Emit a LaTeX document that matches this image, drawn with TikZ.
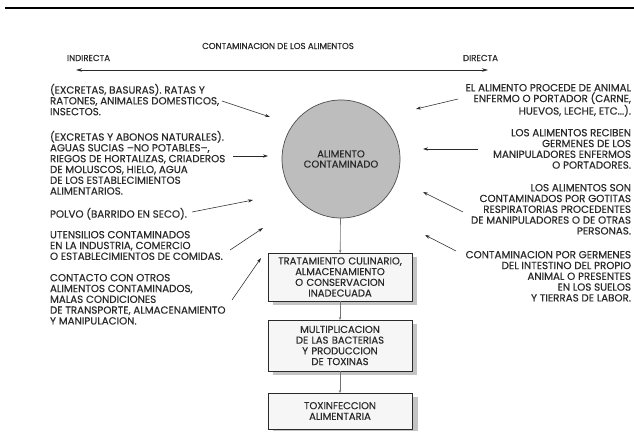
\documentclass[tikz,border=0pt]{standalone}
\usepackage{fontspec}
\setmainfont{Poppins}[FakeBold=0.35]
\usetikzlibrary{arrows.meta}
\definecolor{txt}{HTML}{2A2A2A}
\definecolor{circfill}{HTML}{BDBDBD}
\definecolor{shad}{HTML}{C4C4C4}
\definecolor{boxfill}{HTML}{F6F6F6}
\begin{document}
\begin{tikzpicture}[x=1pt,y=-1pt,
  every node/.style={font=\fontsize{10.3}{10.8}\selectfont, text=txt, inner sep=0pt, outer sep=0pt},
  headfont/.style={font=\fontsize{8.6}{10}\selectfont},
  lblock/.style={align=left, anchor=north west},
  rblock/.style={align=right, anchor=north east},
  ptr/.style={draw=txt, line width=0.55pt, -{Stealth[length=5pt,width=3.2pt]}},
  flowarr/.style={draw=black!55, line width=0.6pt, -{Stealth[length=3pt,width=2.4pt]}},
  flowbox/.style={draw=txt, line width=0.9pt, fill=boxfill, minimum width=144pt, align=center, anchor=north west, text width=140pt, font=\fontsize{10}{10.7}\selectfont},
]
\useasboundingbox (0,0) rectangle (634,431);
\fill[white] (0,0) rectangle (634,431);
% top rule
\draw[line width=2.8pt, black] (5,8) -- (634,8);
% heading
\node[headfont] (title) at (278,46) {CONTAMINACION DE LOS ALIMENTOS};
\node[headfont, anchor=west] (ind) at (67,58) {INDIRECTA};
\node[headfont, anchor=east] (dir) at (498,58) {DIRECTA};
\coordinate (axl) at (76,70);
\coordinate (axr) at (488,70);
\draw[draw=txt, line width=0.7pt, {Stealth[length=6pt,width=3.5pt]}-{Stealth[length=6pt,width=3.5pt]}] (axl) -- (axr);
% central circle
\node[circle, draw=black!70, line width=0.7pt, fill=circfill, minimum size=118pt, align=center, font=\fontsize{10}{10.2}\selectfont] (food) at (341,159) {ALIMENTO\\CONTAMINADO};
% boxes with shadows
\fill[shad] (273,257) rectangle (417,305);
\node[flowbox, minimum height=48pt] (b1) at (268,253) {TRATAMIENTO CULINARIO,\\ALMACENAMIENTO\\O CONSERVACION\\INADECUADA};
\fill[shad] (273,324) rectangle (417,375);
\node[flowbox, minimum height=51pt] (b2) at (268,320) {MULTIPLICACION\\DE LAS BACTERIAS\\Y PRODUCCION\\DE TOXINAS};
\fill[shad] (273,397) rectangle (418,431);
\node[flowbox, minimum height=36pt] (b3) at (268,393) {TOXINFECCION\\ALIMENTARIA};
\draw[flowarr] (food) -- (b1);
\draw[flowarr] (b1) -- (b2);
\draw[flowarr] (b2) -- (b3);
% left texts
\node[lblock] (l1) at (50,84) {(EXCRETAS, BASURAS). RATAS Y\\RATONES, ANIMALES DOMESTICOS,\\INSECTOS.};
\node[lblock] (l2) at (50,131) {(EXCRETAS Y ABONOS NATURALES).\\AGUAS SUCIAS –NO POTABLES–,\\RIEGOS DE HORTALIZAS, CRIADEROS\\DE MOLUSCOS, HIELO, AGUA\\DE LOS ESTABLECIMIENTOS\\ALIMENTARIOS.};
\node[lblock] (l3) at (50,208) {POLVO (BARRIDO EN SECO).};
\node[lblock] (l4) at (50,231) {UTENSILIOS CONTAMINADOS\\EN LA INDUSTRIA, COMERCIO\\O ESTABLECIMIENTOS DE COMIDAS.};
\node[lblock] (l5) at (50,274) {CONTACTO CON OTROS\\ALIMENTOS CONTAMINADOS,\\MALAS CONDICIONES\\DE TRANSPORTE, ALMACENAMIENTO\\Y MANIPULACION.};
% right texts
\node[rblock] (r1) at (631,84) {EL ALIMENTO PROCEDE DE ANIMAL\\ENFERMO O PORTADOR (CARNE,\\HUEVOS, LECHE, ETC...).};
\node[rblock] (r2) at (631,129) {LOS ALIMENTOS RECIBEN\\GERMENES DE LOS\\MANIPULADORES ENFERMOS\\O PORTADORES.};
\node[rblock] (r3) at (631,184) {LOS ALIMENTOS SON\\CONTAMINADOS POR GOTITAS\\RESPIRATORIAS PROCEDENTES\\DE MANIPULADORES O DE OTRAS\\PERSONAS.};
\node[rblock] (r4) at (631,251) {CONTAMINACION POR GERMENES\\DEL INTESTINO DEL PROPIO\\ANIMAL O PRESENTES\\EN LOS SUELOS\\Y TIERRAS DE LABOR.};
% arrow ends
\coordinate (a1s) at (222,101); \coordinate (a1e) at (270,117);
\coordinate (a2s) at (233,156); \coordinate (a2e) at (268,156);
\coordinate (a3s) at (192,212); \coordinate (a3e) at (253,200);
\coordinate (a4s) at (230,250); \coordinate (a4e) at (263,228);
\coordinate (a5s) at (232,300); \coordinate (a5e) at (261,258);
\coordinate (c1s) at (458,99); \coordinate (c1e) at (416,109);
\coordinate (c2s) at (478,149); \coordinate (c2e) at (423,149);
\coordinate (c3s) at (463,212); \coordinate (c3e) at (423,192);
\coordinate (c4s) at (456,251); \coordinate (c4e) at (425,235);
\foreach \s/\e in {a1s/a1e,a2s/a2e,a3s/a3e,a4s/a4e,a5s/a5e,c1s/c1e,c2s/c2e,c3s/c3e,c4s/c4e}
  \draw[ptr] (\s) -- (\e);
\end{tikzpicture}
\end{document}
